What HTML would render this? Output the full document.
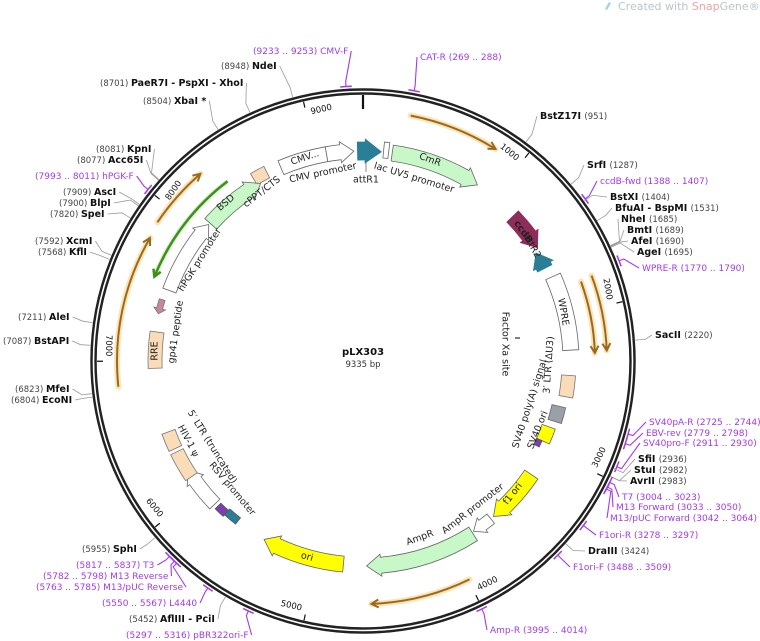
<!DOCTYPE html>
<html><head><meta charset="utf-8">
<style>
html,body{margin:0;padding:0;background:#fff;}
svg{display:block;font-family:"DejaVu Sans","Liberation Sans",sans-serif;}
.lb{font-size:9px;fill:#222;}
.lb .n{font-weight:bold;font-size:9.5px;fill:#111;}
.lb .p{fill:#444;font-size:8.5px;}
.pr{font-size:9px;fill:#a23be6;}
.ft{font-size:9.5px;fill:#222;}
</style></head>
<body>
<svg id="s" width="760" height="641" viewBox="0 0 760 641" xmlns="http://www.w3.org/2000/svg">
<text x="618" y="10" font-size="11" fill="#b8c4cc">Created with <tspan fill="#f4a0a0">Snap</tspan>Gene®</text>
<path d="M605 9 l4 -7 l2 1 l-4 7z" fill="#9cd3ef"/>
<g id="bg"></g>
<g id="fg"></g>
<g id="tx"></g>
<text x="363" y="355" text-anchor="middle" font-size="10" font-weight="bold" fill="#111">pLX303</text>
<text x="363" y="367" text-anchor="middle" font-size="8.5" fill="#333">9335 bp</text>
</svg>
<script>
const NS="http://www.w3.org/2000/svg";
const cx=363,cy=361,N=9335;
const bg=document.getElementById('bg'),fg=document.getElementById('fg'),tx=document.getElementById('tx');
function P(a,r){const t=a*Math.PI/180;return [cx+r*Math.sin(t),cy-r*Math.cos(t)];}
function A(bp){return bp/N*360;}
function el(t,at,par){const e=document.createElementNS(NS,t);for(const k in at)e.setAttribute(k,at[k]);(par||fg).appendChild(e);return e;}
function arcPath(a1,a2,r){const p1=P(a1,r),p2=P(a2,r);const lg=Math.abs(a2-a1)>180?1:0;const sw=a2>a1?1:0;return `M${p1[0]},${p1[1]} A${r},${r} 0 ${lg} ${sw} ${p2[0]},${p2[1]}`;}
function feat(a1,a2,r,w,fill,stroke,dir,par){
  const h=(w*0.9)/r*180/Math.PI; const ro=r+w/2, ri=r-w/2, fo=r+w/2+3, fi=r-w/2-3;
  let d;
  if(dir===1){const b=a2-h;const q=P(b,ro),t=P(a2,r);
    d=`M${P(a1,ro)} A${ro},${ro} 0 0 1 ${q} L${P(b,fo)} L${t} L${P(b,fi)} L${P(b,ri)} A${ri},${ri} 0 0 0 ${P(a1,ri)} Z`;}
  else if(dir===-1){const b=a1+h;
    d=`M${P(a2,ro)} A${ro},${ro} 0 0 0 ${P(b,ro)} L${P(b,fo)} L${P(a1,r)} L${P(b,fi)} L${P(b,ri)} A${ri},${ri} 0 0 1 ${P(a2,ri)} Z`;}
  else{d=`M${P(a1,ro)} A${ro},${ro} 0 0 1 ${P(a2,ro)} L${P(a2,ri)} A${ri},${ri} 0 0 0 ${P(a1,ri)} Z`;}
  el('path',{d:d,fill:fill,stroke:stroke,'stroke-width':0.8},par);
}
function orf(a1,a2,r,col,dir,glow,wd){
  const w=wd||2;
  if(glow) el('path',{d:arcPath(a1,a2,r),fill:'none',stroke:'#fde3b5','stroke-width':6,'stroke-linecap':'round'},bg);
  el('path',{d:arcPath(a1,a2,r),fill:'none',stroke:col,'stroke-width':w},bg);
  const tip=dir===1?a2:a1, b=dir===1?a2-7/r*57.3:a1+7/r*57.3;
  el('path',{d:`M${P(b,r+4)} L${P(tip,r)} L${P(b,r-4)}`,fill:'none',stroke:col,'stroke-width':w},bg);
}
el('circle',{cx:cx,cy:cy,r:269.5,fill:'none',stroke:'#222','stroke-width':6.5},bg);
el('circle',{cx:cx,cy:cy,r:269.5,fill:'none',stroke:'#fff','stroke-width':1.6},bg);
el('line',{x1:cx,y1:cy-266,x2:cx,y2:cy-252,stroke:'#111','stroke-width':2.2},bg);
const rots={1000:39,2000:80,3000:-64,4000:-26,5000:13,6000:51,7000:90,8000:-55,9000:-13};
for(let k=1000;k<=9000;k+=1000){const a=A(k);const p1=P(a,266),p2=P(a,260);
  el('line',{x1:p1[0],y1:p1[1],x2:p2[0],y2:p2[1],stroke:'#111','stroke-width':1.2},bg);
  const q=P(a+(a<180?-3.5:3.5),255);
  const t=el('text',{x:q[0],y:q[1],'font-size':8.5,fill:'#111','text-anchor':'middle','dominant-baseline':'middle',transform:`rotate(${rots[k]} ${q[0]} ${q[1]})`},tx);t.textContent=k;}
orf(11,32,250,'#9a6a1c',1,true);
orf(70,88,232,'#9a6a1c',1,true);
orf(69.5,87.5,244,'#9a6a1c',1,true);
orf(154,178,243,'#9a6a1c',1,true);
orf(264,300,246,'#9a6a1c',1,true);
orf(304,319,248,'#9a6a1c',1,true);
el('path',{d:arcPath(292,323,225),fill:'none',stroke:'#b9e59a','stroke-width':5,'stroke-opacity':0.5},bg);
orf(292,323,225,'#3f8f1f',-1,false,2.5);
feat(337,350,210,15,'#fff','#666',0);
feat(350,357.5,210,15,'#fff','#666',1);
feat(358.5,5,210,18,'#2a7f96','#2a7f96',1);
feat(5.6,7,212,16,'#fff','#666',0);
feat(8,33,210,16,'#c8f7c8','#666',1);
feat(329,333,212,13,'#fbdcb8','#777',0);
feat(312,330,205,16,'#c8f7c8','#666',1);
feat(290,311.5,206,14,'#fff','#666',1);
feat(283,287,210,6,'#c9859b','#777',-1);
feat(268,278,208,14,'#fbdcb8','#777',0);
feat(46,57,208,16,'#8e2d5a','#8e2d5a',1);
feat(58,63,204,16,'#2a7f96','#2a7f96',-1);
feat(66,87,208,16,'#fff','#666',0);
feat(94,100,206,14,'#fbdcb8','#777',0);
feat(103,107.5,201,14,'#9aa0a8','#666',0);
feat(109.5,114,197,14,'#ffff00','#666',0);
feat(124,140,203,16,'#ffff00','#666',1);
feat(141,147,203,12,'#fff','#666',1);
feat(147.5,179,205,16,'#c8f7c8','#666',1);
feat(185.5,209,204,16,'#ffff00','#666',1);
feat(226,238,206,14,'#fff','#666',1);
feat(236,244,207,14,'#fbdcb8','#777',0);
feat(245,250,207,14,'#fbdcb8','#777',0);
feat(222,225,205,8,'#7b3fb3','#555',0);
feat(218,222,203,8,'#2a7f96','#555',0);
feat(114,116,193,6,'#7b3fb3','#555',0);
el('line',{x1:515,y1:338,x2:520,y2:338,stroke:'#555','stroke-width':1.5});
function ft(s,x,y,rot,opt){const t=el('text',Object.assign({x:x,y:y,'text-anchor':'middle','dominant-baseline':'middle',transform:`rotate(${rot} ${x} ${y})`,class:'ft'},opt||{}),tx);t.textContent=s;}
ft('CMV...',305,158,-18);
ft('CMV promoter',323,173,-12);
ft('attR1',366,180,0);
el('line',{x1:366,y1:160,x2:366,y2:172,stroke:'#666','stroke-width':0.8});
ft('lac UV5 promoter',414,178,17);
ft('CmR',430,160,20,{fill:'#225522'});
ft('cPPT/CTS',262,192,-38);
ft('BSD',226,203,-40,{fill:'#225522'});
ft('hPGK promoter',200,260,-58);
ft('gp41 peptide',176,332,-82);
ft('RRE',155,351,-90);
ft('ccdB',523,232,55,{fill:'#fff',style:'font-weight:bold'});
ft('attR2',532,246,62);
ft('WPRE',563,312,80);
ft('Factor Xa site',505,344,90);
ft('3\u2032 LTR (\u0394U3)',549,365,-86);
ft('SV40 poly(A) signal',530,404,-72);
ft('SV40 ori',538,430,-68);
ft('f1 ori',513,494,-52);
ft('AmpR promoter',473,509,-38);
ft('AmpR',420,538,-20);
ft('ori',307,557,15);
ft('RSV promoter',232,489,50);
ft('5\u2032 LTR (truncated)',212,447,58);
ft('HIV-1 \u03c8',188,441,62);
function lab(num,name,bp,x,y,side,primer,gray){
  const t=el('text',{x:x,y:y,class:primer?'pr':'lb'},tx);
  if(side==='L'){
    const a=el('tspan',{class:primer?'':'p'},t);a.textContent=num+'  ';
    const b=el('tspan',{class:primer?'':'n'},t);b.textContent=name;
    if(gray){b.setAttribute('fill','#999');}
  }else{
    const b=el('tspan',{class:primer?'':'n'},t);b.textContent=name+'  ';
    const a=el('tspan',{class:primer?'':'p'},t);a.textContent=num;
  }
  const L=t.getComputedTextLength();
  const sx=side==='L'?x+L+3:x-3, sy=y-3;
  const ang=A(bp);const c1=P(ang,primer?275:273),c2=P(ang,primer?280:283);
  const col=primer?'#a23be6':'#999';
  el('polyline',{points:`${sx},${sy} ${c2} ${c1}`,fill:'none',stroke:col,'stroke-width':primer?1.1:0.8},bg);
  if(primer){el('path',{d:arcPath(ang-1.2,ang+1.2,275),fill:'none',stroke:col,'stroke-width':1.5},bg);}
}
lab('(9233 .. 9253)','CMV-F',9243,253,54,'L',1);
lab('(8948)','NdeI',8948,221,69,'L');
lab('(8701)','PaeR7I  - PspXI  - XhoI',8701,100,86,'L');
lab('(8504)','XbaI *',8504,143,104,'L',0,1);
lab('(8081)','KpnI',8081,96,152,'L');
lab('(8077)','Acc65I',8077,77,163,'L');
lab('(7993 .. 8011)','hPGK-F',8002,35,179,'L',1);
lab('(7909)','AscI',7909,63,195,'L');
lab('(7900)','BlpI',7900,59,206,'L');
lab('(7820)','SpeI',7820,50,217,'L');
lab('(7592)','XcmI',7592,35,244,'L');
lab('(7568)','KflI',7568,38,255,'L');
lab('(7211)','AleI',7211,18,320,'L');
lab('(7087)','BstAPI',7087,3,344,'L');
lab('(6823)','MfeI',6823,15,392,'L');
lab('(6804)','EcoNI',6804,11,403,'L');
lab('(5955)','SphI',5955,82,552,'L');
lab('(5817 .. 5837)','T3',5827,76,568,'L',1);
lab('(5782 .. 5798)','M13 Reverse',5790,43,579,'L',1);
lab('(5763 .. 5785)','M13/pUC Reverse',5774,36,590,'L',1);
lab('(5550 .. 5567)','L4440',5558,102,606,'L',1);
lab('(5452)','AflIII  - PciI',5452,129,622,'L');
lab('(5297 .. 5316)','pBR322ori-F',5306,126,638,'L',1);
lab('(269 .. 288)','CAT-R',278,420,60,'R',1);
lab('(951)','BstZ17I',951,540,119,'R');
lab('(1287)','SrfI',1287,587,168,'R');
lab('(1388 .. 1407)','ccdB-fwd',1397,600,184,'R',1);
lab('(1404)','BstXI',1404,610,200,'R');
lab('(1531)','BfuAI  - BspMI',1531,615,211,'R');
lab('(1685)','NheI',1685,621,222,'R');
lab('(1689)','BmtI',1689,627,233,'R');
lab('(1690)','AfeI',1690,631,244,'R');
lab('(1695)','AgeI',1695,637,255,'R');
lab('(1770 .. 1790)','WPRE-R',1780,642,271,'R',1);
lab('(2220)','SacII',2220,655,338,'R');
lab('(2725 .. 2744)','SV40pA-R',2734,649,425,'R',1);
lab('(2779 .. 2798)','EBV-rev',2788,646,436,'R',1);
lab('(2911 .. 2930)','SV40pro-F',2920,643,446,'R',1);
lab('(2936)','SfiI',2936,638,462,'R');
lab('(2982)','StuI',2982,634,473,'R');
lab('(2983)','AvrII',2983,630,484,'R');
lab('(3004 .. 3023)','T7',3013,622,500,'R',1);
lab('(3033 .. 3050)','M13 Forward',3041,616,510,'R',1);
lab('(3042 .. 3064)','M13/pUC Forward',3053,610,521,'R',1);
lab('(3278 .. 3297)','F1ori-R',3287,599,538,'R',1);
lab('(3424)','DraIII',3424,588,554,'R');
lab('(3488 .. 3509)','F1ori-F',3498,573,570,'R',1);
lab('(3995 .. 4014)','Amp-R',4004,490,633,'R',1);
</script>
</body></html>
